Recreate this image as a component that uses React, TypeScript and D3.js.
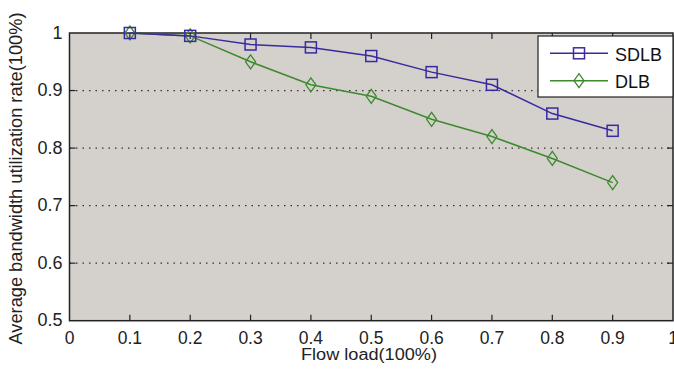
import React from "react";
import * as d3 from "d3";

const xTicks = [0, 0.1, 0.2, 0.3, 0.4, 0.5, 0.6, 0.7, 0.8, 0.9, 1];
const yTicks = [0.5, 0.6, 0.7, 0.8, 0.9, 1];
const gridY = [0.6, 0.7, 0.8, 0.9];
const loads = [0.1, 0.2, 0.3, 0.4, 0.5, 0.6, 0.7, 0.8, 0.9];
const sdlb = [1.0, 0.995, 0.98, 0.975, 0.96, 0.932, 0.91, 0.86, 0.83];
const dlb = [1.0, 0.995, 0.95, 0.91, 0.89, 0.85, 0.82, 0.782, 0.74];

const W = 674, H = 372;
const L = 69.5, R = 673, T = 33, B = 320.7;
const blue = "#3a2aa0", green = "#3d8a2e";

export default function App() {
  const x = d3.scaleLinear().domain([0, 1]).range([L, R]);
  const y = d3.scaleLinear().domain([0.5, 1]).range([B, T]);
  const line = d3.line<number>().x((_, i) => x(loads[i])).y((d) => y(d));
  const fmt = (v: number) => String(v);
  const font = "'Liberation Sans', Arial, sans-serif";
  return (
    <svg width={W} height={H} style={{ position: "absolute", left: 0, top: 0, background: "#fff" }}>
      <rect x={L} y={T} width={R - L} height={B - T} fill="#d4d0cc" />
      {gridY.map((v) => (
        <line key={v} x1={L} x2={R} y1={y(v)} y2={y(v)} stroke="#333" strokeWidth={1.2} strokeDasharray="1.5,5" />
      ))}
      {xTicks.slice(1, -1).map((v) => (
        <g key={v}>
          <line x1={x(v)} x2={x(v)} y1={B} y2={B - 6} stroke="#222" strokeWidth={1.2} />
          <line x1={x(v)} x2={x(v)} y1={T} y2={T + 6} stroke="#222" strokeWidth={1.2} />
        </g>
      ))}
      {yTicks.slice(1, -1).map((v) => (
        <g key={v}>
          <line x1={L} x2={L + 6} y1={y(v)} y2={y(v)} stroke="#222" strokeWidth={1.2} />
          <line x1={R} x2={R - 6} y1={y(v)} y2={y(v)} stroke="#222" strokeWidth={1.2} />
        </g>
      ))}
      <rect x={L} y={T} width={R - L} height={B - T} fill="none" stroke="#222" strokeWidth={1.5} />
      {xTicks.map((v) => (
        <text key={v} x={x(v)} y={B + 23} textAnchor="middle" fontFamily={font} fontSize={17.5} fill="#222">
          {fmt(v)}
        </text>
      ))}
      {yTicks.map((v) => (
        <text key={v} x={L - 7} y={y(v) + 5.5} textAnchor="end" fontFamily={font} fontSize={18} fill="#222">
          {fmt(v)}
        </text>
      ))}
      <text
        x={369}
        y={359.5}
        textAnchor="middle"
        fontFamily={font}
        fontSize={16}
        textLength={136}
        lengthAdjust="spacingAndGlyphs"
        fill="#222"
      >
        Flow load(100%)
      </text>
      <text
        transform={`translate(22, 178.5) rotate(-90)`}
        textAnchor="middle"
        fontFamily={font}
        fontSize={18}
        textLength={332}
        lengthAdjust="spacingAndGlyphs"
        fill="#222"
      >
        Average bandwidth utilization rate(100%)
      </text>
      <path d={line(dlb) || ""} fill="none" stroke={green} strokeWidth={1.5} />
      {dlb.map((v, i) => (
        <path
          key={i}
          d={`M${x(loads[i])},${y(v) - 7}L${x(loads[i]) + 5},${y(v)}L${x(loads[i])},${y(v) + 7}L${x(loads[i]) - 5},${y(v)}Z`}
          fill="none"
          stroke={green}
          strokeWidth={1.3}
        />
      ))}
      <path d={line(sdlb) || ""} fill="none" stroke={blue} strokeWidth={1.5} />
      {sdlb.map((v, i) => (
        <rect key={i} x={x(loads[i]) - 5.5} y={y(v) - 5.5} width={11} height={11} fill="none" stroke={blue} strokeWidth={1.5} />
      ))}
      <g>
        <rect x={538} y={36} width={135} height={61} fill="#fff" stroke="#222" strokeWidth={1.2} />
        <line x1={550} x2={608} y1={53.3} y2={53.3} stroke={blue} strokeWidth={1.5} />
        <rect x={573.5} y={47.8} width={11} height={11} fill="none" stroke={blue} strokeWidth={1.5} />
        <text x={615} y={61} fontFamily={font} fontSize={18} fill="#111">SDLB</text>
        <line x1={550} x2={608} y1={80.7} y2={80.7} stroke={green} strokeWidth={1.5} />
        <path d="M579,73.7L584,80.7L579,87.7L574,80.7Z" fill="none" stroke={green} strokeWidth={1.3} />
        <text x={615} y={87.5} fontFamily={font} fontSize={18} fill="#111">DLB</text>
      </g>
    </svg>
  );
}
